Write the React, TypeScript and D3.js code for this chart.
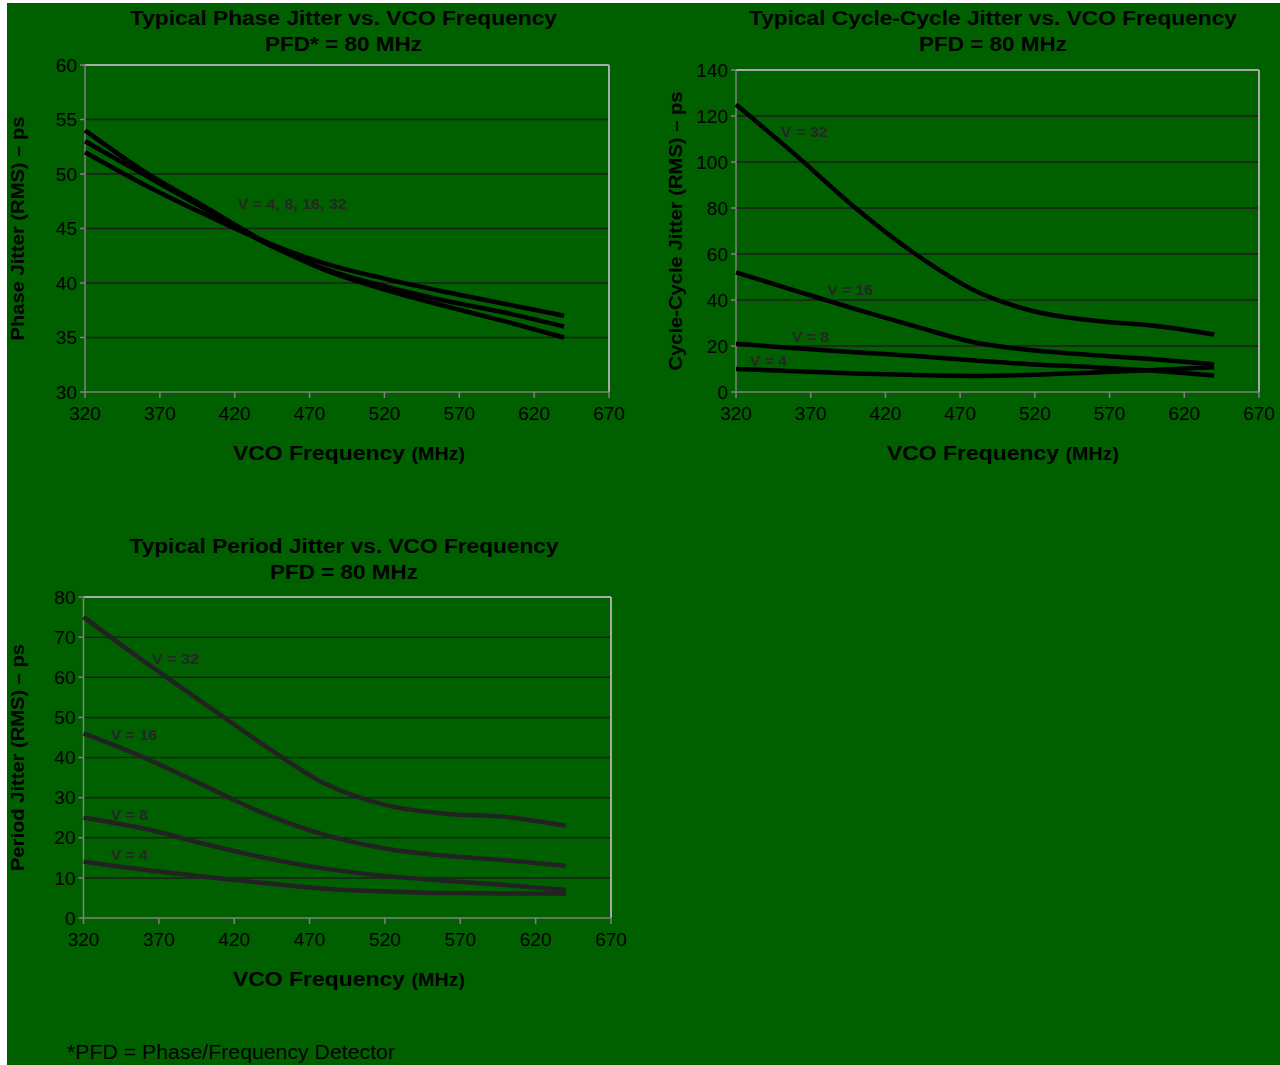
import React from "react";
import * as d3 from "d3";

const freq = [320, 360, 400, 440, 480, 520, 560, 600, 640];
const xTicks = [320, 370, 420, 470, 520, 570, 620, 670];

// Phase jitter (three visible curves for V = 4, 8, 16, 32)
const phaseA = [52, 49.0, 46.3, 43.8, 41.8, 40.4, 39.2, 38.1, 37];
const phaseB = [53, 49.9, 46.8, 43.7, 41.3, 39.7, 38.4, 37.3, 36];
const phaseC = [54, 50.2, 47.0, 43.8, 41.2, 39.4, 37.9, 36.5, 35];
const phaseTicks = [30, 35, 40, 45, 50, 55, 60];

// Cycle-cycle jitter
const ccV32 = [125, 103, 80, 60, 44, 35, 31, 28.8, 25];
const ccV16 = [52, 44, 36, 28.5, 21.5, 18, 16, 14.2, 12];
const ccV8 = [21, 19, 17.3, 15.6, 13.7, 12, 10.8, 9.2, 7.2];
const ccV4 = [10, 9, 8, 7.4, 7, 7.5, 8.5, 9.6, 10.8];
const ccTicks = [0, 20, 40, 60, 80, 100, 120, 140];

// Period jitter
const pV32 = [75, 64, 53.5, 43, 33.5, 28.2, 26, 25.2, 23];
const pV16 = [46, 40, 33, 26, 20.7, 17.3, 15.5, 14.4, 13];
const pV8 = [25, 22.3, 18.5, 15.0, 12.3, 10.5, 9.3, 8.2, 7];
const pV4 = [14, 12, 10.3, 8.7, 7.3, 6.6, 6.2, 6.1, 6.1];
const periodTicks = [0, 10, 20, 30, 40, 50, 60, 70, 80];

const FONT = "'Liberation Sans', Arial, Helvetica, sans-serif";
const BG = "#006000";

type Label = { text: string; x: number; y: number; len?: number };

type PanelProps = {
  left: number;
  right: number;
  top: number;
  bottom: number;
  yDomain: [number, number];
  yTicks: number[];
  series: number[][];
  lineColor: string;
  labels: Label[];
  title1: string;
  title1Len: number;
  title2: string;
  title2Len: number;
  titleX: number;
  titleY: number;
  yTitle: string;
  yTitleX: number;
  yTitleLen: number;
  xTitleX: number;
};

function Panel(p: PanelProps) {
  const x = d3.scaleLinear().domain([320, 670]).range([p.left, p.right]);
  const y = d3.scaleLinear().domain(p.yDomain).range([p.bottom, p.top]);
  const line = d3
    .line<number>()
    .x((_, i) => x(freq[i]))
    .y((d) => y(d))
    .curve(d3.curveMonotoneX);
  const yMid = (p.top + p.bottom) / 2;
  return (
    <g>
      {/* titles */}
      <text
        x={p.titleX}
        y={p.titleY}
        textAnchor="middle"
        fontFamily={FONT}
        fontWeight="bold"
        fontSize={20}
        textLength={p.title1Len}
        lengthAdjust="spacingAndGlyphs"
        fill="#000"
      >
        {p.title1}
      </text>
      <text
        x={p.titleX}
        y={p.titleY + 26}
        textAnchor="middle"
        fontFamily={FONT}
        fontWeight="bold"
        fontSize={20}
        textLength={p.title2Len}
        lengthAdjust="spacingAndGlyphs"
        fill="#000"
      >
        {p.title2}
      </text>
      {/* gridlines */}
      {p.yTicks.slice(1, -1).map((t) => (
        <line
          key={"g" + t}
          x1={p.left}
          x2={p.right}
          y1={y(t)}
          y2={y(t)}
          stroke="#1e1e1e"
          strokeWidth={1.5}
        />
      ))}
      {/* plot frame */}
      <line x1={p.left} x2={p.right} y1={p.top} y2={p.top} stroke="#a8a8a8" strokeWidth={2} />
      <line x1={p.right} x2={p.right} y1={p.top} y2={p.bottom} stroke="#a8a8a8" strokeWidth={2} />
      <line x1={p.left} x2={p.left} y1={p.top} y2={p.bottom} stroke="#808080" strokeWidth={1.5} />
      <line x1={p.left} x2={p.right} y1={p.bottom} y2={p.bottom} stroke="#808080" strokeWidth={1.5} />
      {/* y ticks */}
      {p.yTicks.map((t) => (
        <g key={"y" + t}>
          <line x1={p.left - 5} x2={p.left} y1={y(t)} y2={y(t)} stroke="#808080" strokeWidth={1.5} />
          <text
            x={p.left - 8}
            y={y(t)}
            dy="0.35em"
            textAnchor="end"
            fontFamily={FONT}
            fontSize={19}
            fill="#000"
          >
            {t}
          </text>
        </g>
      ))}
      {/* x ticks */}
      {xTicks.map((t) => (
        <g key={"x" + t}>
          <line x1={x(t)} x2={x(t)} y1={p.bottom} y2={p.bottom + 6} stroke="#808080" strokeWidth={1.5} />
          <text
            x={x(t)}
            y={p.bottom + 28}
            textAnchor="middle"
            fontFamily={FONT}
            fontSize={19}
            fill="#000"
          >
            {t}
          </text>
        </g>
      ))}
      {/* x title */}
      <text
        x={p.xTitleX}
        y={p.bottom + 68}
        textAnchor="middle"
        fontFamily={FONT}
        fontWeight="bold"
        fill="#000"
        textLength={232}
        lengthAdjust="spacingAndGlyphs"
      >
        <tspan fontSize={21}>VCO Frequency </tspan>
        <tspan fontSize={18}>(MHz)</tspan>
      </text>
      {/* y title */}
      <text
        transform={`translate(${p.yTitleX},${yMid}) rotate(-90)`}
        textAnchor="middle"
        fontFamily={FONT}
        fontWeight="bold"
        fontSize={18}
        textLength={p.yTitleLen}
        lengthAdjust="spacingAndGlyphs"
        fill="#000"
      >
        {p.yTitle}
      </text>
      {/* series */}
      {p.series.map((s, i) => (
        <path
          key={"s" + i}
          d={line(s) || ""}
          fill="none"
          stroke={p.lineColor}
          strokeWidth={4.5}
          strokeLinejoin="round"
        />
      ))}
      {/* labels */}
      {p.labels.map((l, i) => (
        <text
          key={"l" + i}
          x={x(l.x)}
          y={y(l.y)}
          dy="0.35em"
          fontFamily={FONT}
          fontWeight="bold"
          fontSize={14}
          fill="#262626"
          textLength={l.len}
          lengthAdjust="spacingAndGlyphs"
        >
          {l.text}
        </text>
      ))}
    </g>
  );
}

export default function App() {
  return (
    <svg
      width={1280}
      height={1065}
      style={{ position: "absolute", left: 0, top: 0, display: "block" }}
    >
      <rect x={0} y={0} width={1280} height={1065} fill="#fff" />
      <rect x={7} y={3} width={1273} height={1062} fill={BG} />
      <Panel
        left={85}
        right={609}
        top={65}
        bottom={392}
        yDomain={[30, 60]}
        yTicks={phaseTicks}
        series={[phaseA, phaseB, phaseC]}
        lineColor="#000"
        labels={[{ text: "V = 4, 8, 16, 32", x: 422, y: 47.2, len: 109 }]}
        title1="Typical Phase Jitter vs. VCO Frequency"
        title1Len={427}
        title2="PFD* = 80 MHz"
        title2Len={157}
        titleX={343.5}
        titleY={25}
        yTitle="Phase Jitter (RMS) – ps"
        yTitleX={24}
        yTitleLen={224}
        xTitleX={349}
      />
      <Panel
        left={736}
        right={1259}
        top={70}
        bottom={392}
        yDomain={[0, 140]}
        yTicks={ccTicks}
        series={[ccV32, ccV16, ccV8, ccV4]}
        lineColor="#000"
        labels={[
          { text: "V = 32", x: 350, y: 113, len: 47 },
          { text: "V = 16", x: 381, y: 44.3, len: 46 },
          { text: "V = 8", x: 357.5, y: 23.9, len: 37 },
          { text: "V = 4", x: 329.4, y: 13.5, len: 37 },
        ]}
        title1="Typical Cycle-Cycle Jitter vs. VCO Frequency"
        title1Len={488}
        title2="PFD = 80 MHz"
        title2Len={148}
        titleX={993}
        titleY={25}
        yTitle="Cycle-Cycle Jitter (RMS) – ps"
        yTitleX={682}
        yTitleLen={279}
        xTitleX={1003}
      />
      <Panel
        left={83.5}
        right={611}
        top={597}
        bottom={918}
        yDomain={[0, 80]}
        yTicks={periodTicks}
        series={[pV32, pV16, pV8, pV4]}
        lineColor="#222"
        labels={[
          { text: "V = 32", x: 365.5, y: 64.6, len: 47 },
          { text: "V = 16", x: 338.2, y: 45.6, len: 46 },
          { text: "V = 8", x: 338.2, y: 25.7, len: 37 },
          { text: "V = 4", x: 338.2, y: 15.7, len: 37 },
        ]}
        title1="Typical Period Jitter vs. VCO Frequency"
        title1Len={429}
        title2="PFD = 80 MHz"
        title2Len={148}
        titleX={344}
        titleY={553}
        yTitle="Period Jitter (RMS) – ps"
        yTitleX={24}
        yTitleLen={227}
        xTitleX={349}
      />
      <text x={67} y={1059} fontFamily={FONT} fontSize={20} fill="#000" textLength={328} lengthAdjust="spacingAndGlyphs">
        *PFD = Phase/Frequency Detector
      </text>
    </svg>
  );
}
